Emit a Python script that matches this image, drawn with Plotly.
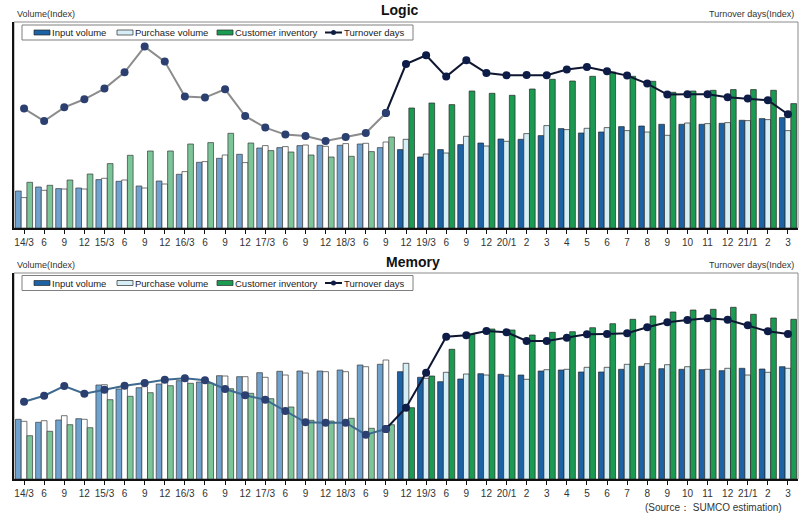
import plotly.graph_objects as go

categories = ["14/3", "6", "9", "12", "15/3", "6", "9", "12", "16/3", "6", "9", "12",
              "17/3", "6", "9", "12", "18/3", "6", "9", "12", "19/3", "6", "9", "12",
              "20/1", "2", "3", "4", "5", "6", "7", "8", "9", "10", "11", "12",
              "21/1", "2", "3"]

# Logic panel
logic_input = [37, 41, 39.4, 40, 48.4, 46.7, 42, 47, 53.7, 65.7, 69.7, 73.7, 80, 80.4, 82.4, 82.7,
               82.7, 84, 80.4, 78.4, 71, 78.4, 83.4, 85, 89, 88.7, 92.4, 99.4, 95, 96, 101.4, 102,
               103.7, 103.7, 103.7, 104.7, 107.7, 109.4, 110.4]
logic_purchase = [30.4, 37.7, 39, 39, 49.7, 48, 40, 44, 56.4, 66.4, 73, 65.4, 82.4, 81.4, 83, 81.7,
                  84.4, 84.7, 86, 88.7, 74, 75, 91.7, 82, 86.7, 94.4, 102.4, 98.4, 99.7, 100.4, 97.4,
                  96, 92.7, 105, 104.4, 105.4, 107.4, 108.4, 97.4]
logic_inventory = [45.7, 42.7, 48, 54, 64.4, 72.7, 77, 77, 84, 85.4, 94.7, 85, 77.4, 76, 73, 71,
                   71.7, 76.4, 91, 120, 125, 123.4, 137, 134.7, 132.7, 139, 148.7, 147, 151.7, 156,
                   151.7, 146.7, 135.7, 137, 137.7, 138.4, 138.4, 137.7, 124.4]
logic_turnover = [119.4, 107, 120.7, 128.7, 139.4, 155.7, 181.4, 166.4, 131.4, 130.4, 138.7, 112,
                  100.4, 93.4, 92, 87, 91, 95, 115, 164, 172.7, 151.4, 167.7, 155, 152.7, 153,
                  152.7, 158.4, 161, 156.7, 152.4, 144.4, 133.4, 133.7, 133.7, 130.7, 129.4, 127.7,
                  113.7]

# Memory panel
memory_input = [59.7, 56.7, 59, 60.3, 94, 90, 91.3, 95, 98.3, 97, 103.3, 102.3, 106.3, 107.7, 108,
                108, 109, 114, 114.7, 107.3, 101.7, 97.3, 100, 105.3, 104.7, 104, 108, 109, 107, 107,
                109.7, 112.7, 110.3, 109.7, 109.3, 108.3, 110.7, 110, 112.3]
memory_purchase = [57.7, 58.3, 63.3, 59.7, 94.3, 95, 92.3, 98.3, 100.3, 98.3, 103, 102.3, 101.7, 104,
                   106, 107.3, 107.3, 112.3, 119, 115.7, 100.7, 106.7, 105, 104, 103, 99.7, 109.3,
                   109.7, 111.7, 111.7, 114.7, 115.3, 114.3, 112.3, 109.7, 110.7, 104, 106.7, 110.7]
memory_inventory = [43.3, 47.7, 54.3, 51.3, 79.3, 82.7, 86.3, 93.3, 95.7, 95.7, 90.3, 85.7, 80.3, 72,
                    58.7, 58, 60.7, 50.7, 54.3, 71.3, 103, 129.7, 144.7, 150, 149, 144, 146.7, 147.3,
                    151.3, 155.3, 159.7, 163, 167, 169, 169.7, 171.7, 164.7, 161, 159.7]
memory_turnover = [77.3, 83.3, 93, 85.3, 89.3, 93.3, 96, 99.3, 100.7, 98.7, 90, 83.7, 79.3, 68, 56.7,
                   56.3, 56.3, 44.3, 50, 71.3, 106.3, 142.3, 143.7, 148, 146.7, 138, 138, 141.3,
                   144.7, 145, 145.7, 151.7, 156.7, 159, 160.7, 159.3, 153.7, 147.7, 145]

legend_labels = ["Input volume", "Purchase volume", "Customer inventory", "Turnover days"]

SPLIT = 19  # first saturated category index
x_idx = list(range(len(categories)))

KEYS = ["input", "purchase", "inventory"]
FADED = {"input": "#6FA2CF", "purchase": "#FFFFFF", "inventory": "#7CC598"}
DARK = {"input": "#1C62A4", "purchase": "#D6EEF5", "inventory": "#1B9A52"}
DARK_LINE, DARK_MARK = "#0F1630", "#0E1D48"

fig = go.Figure()

panels = [
    dict(ya="y", yl="y3", xa="x",
         data={"input": logic_input, "purchase": logic_purchase, "inventory": logic_inventory},
         turn=logic_turnover, faded_line="#8C8C8C", legend_y=32.5),
    dict(ya="y2", yl="y4", xa="x2",
         data={"input": memory_input, "purchase": memory_purchase, "inventory": memory_inventory},
         turn=memory_turnover, faded_line="#3D6A8E", legend_y=283),
]

for p in panels:
    for i, key in enumerate(KEYS):
        vals = p["data"][key]
        fig.add_trace(go.Bar(
            x=x_idx[:SPLIT], y=vals[:SPLIT], xaxis=p["xa"], yaxis=p["ya"],
            offsetgroup=key, marker=dict(color=FADED[key], line=dict(color="#3A3A3A", width=0.7)),
            showlegend=False, name=legend_labels[i]))
        fig.add_trace(go.Bar(
            x=x_idx[SPLIT:], y=vals[SPLIT:], xaxis=p["xa"], yaxis=p["ya"],
            offsetgroup=key, marker=dict(color=DARK[key], line=dict(color="#2A2A2A", width=0.7)),
            showlegend=False, name=legend_labels[i]))
    t = p["turn"]
    fig.add_trace(go.Scatter(
        x=x_idx[SPLIT - 1:], y=t[SPLIT - 1:], xaxis=p["xa"], yaxis=p["yl"],
        mode="lines+markers", line=dict(color=DARK_LINE, width=2),
        marker=dict(color=DARK_MARK, size=8), name=legend_labels[3], showlegend=False))
    fig.add_trace(go.Scatter(
        x=x_idx[:SPLIT], y=t[:SPLIT], xaxis=p["xa"], yaxis=p["yl"],
        mode="lines+markers", line=dict(color=p["faded_line"], width=2),
        marker=dict(color="#2B3F70", size=8), name=legend_labels[3], showlegend=False))

X0, X1 = 14 / 800, 798 / 800
top_dom = [1 - 228 / 515, 1 - 22 / 515]
bot_dom = [1 - 479 / 515, 1 - 273 / 515]
YR = [0, 206]

xcommon = dict(tickmode="array", tickvals=x_idx, ticktext=categories, range=[-0.5, len(categories) - 0.5],
               showline=True, linecolor="#111111", linewidth=2, ticks="outside", tickson="boundaries",
               ticklen=4, tickcolor="#111111", tickfont=dict(family="Liberation Sans", size=10, color="#333333"),
               showgrid=False, zeroline=False)
ycommon = dict(range=YR, showticklabels=False, showgrid=False, zeroline=False, ticks="")

fig.update_layout(
    width=800, height=515, margin=dict(l=0, r=0, t=0, b=0),
    paper_bgcolor="white", plot_bgcolor="white",
    barmode="group", bargap=0.15, bargroupgap=0, showlegend=False,
    font=dict(family="Liberation Sans", color="#333333"),
    xaxis=dict(domain=[X0, X1], anchor="y", **xcommon),
    xaxis2=dict(domain=[X0, X1], anchor="y2", **xcommon),
    yaxis=dict(domain=top_dom, anchor="x", showline=True, linecolor="#111111", linewidth=2, **ycommon),
    yaxis2=dict(domain=bot_dom, anchor="x2", showline=True, linecolor="#111111", linewidth=2, **ycommon),
    yaxis3=dict(overlaying="y", anchor="x", side="right", showline=False, **ycommon),
    yaxis4=dict(overlaying="y2", anchor="x2", side="right", showline=False, **ycommon),
)

def px(x):
    return x / 800

def py(y):
    return 1 - y / 515

# gray frame (top / right edges)
for dom in (top_dom, bot_dom):
    fig.add_shape(type="rect", xref="paper", yref="paper", x0=X0, x1=X1, y0=dom[0], y1=dom[1],
                  line=dict(color="#8A8A8A", width=1), layer="below")

def txt(x, y, s, size=9, anchor="left", bold=False, color="#333333"):
    fig.add_annotation(x=px(x), y=py(y), xref="paper", yref="paper", text=f"<b>{s}</b>" if bold else s,
                       showarrow=False, xanchor=anchor, yanchor="middle", borderpad=0,
                       font=dict(family="Liberation Sans", size=size, color=color))

# manual legends (one per panel)
for p in panels:
    cy = p["legend_y"]
    fig.add_shape(type="rect", xref="paper", yref="paper", x0=px(22), x1=px(413),
                  y0=py(cy + 7.5), y1=py(cy - 7.5), line=dict(color="#7F7F7F", width=1),
                  fillcolor="white", layer="above")
    sw = [(34, DARK["input"]), (117, DARK["purchase"]), (217, DARK["inventory"])]
    for (sx, col) in sw:
        fig.add_shape(type="rect", xref="paper", yref="paper", x0=px(sx), x1=px(sx + 16),
                      y0=py(cy + 2.5), y1=py(cy - 2.5), line=dict(color="#2A2A2A", width=0.7),
                      fillcolor=col, layer="above")
    fig.add_shape(type="line", xref="paper", yref="paper", x0=px(325), x1=px(342),
                  y0=py(cy), y1=py(cy), line=dict(color=DARK_LINE, width=2), layer="above")
    fig.add_shape(type="circle", xref="paper", yref="paper", x0=px(331), x1=px(336),
                  y0=py(cy + 2.5), y1=py(cy - 2.5), line=dict(color=DARK_MARK, width=0),
                  fillcolor=DARK_MARK, layer="above")
    for (tx, lab) in zip([51, 134, 234, 343], legend_labels):
        txt(tx, cy, lab, size=9.5, color="#222222")

txt(400, 10, "Logic", size=14, anchor="center", bold=True, color="#111111")
txt(16, 14, "Volume(Index)", size=9)
txt(795, 14, "Turnover days(Index)", size=9, anchor="right")
txt(413, 262, "Memory", size=14, anchor="center", bold=True, color="#111111")
txt(16, 265, "Volume(Index)", size=9)
txt(795, 265, "Turnover days(Index)", size=9, anchor="right")
txt(783, 507, "(Source： SUMCO estimation)", size=10, anchor="right")

fig.write_html("out.html", config={"displayModeBar": False},
               post_script="document.body.style.margin='0';document.body.style.overflow='hidden';")
